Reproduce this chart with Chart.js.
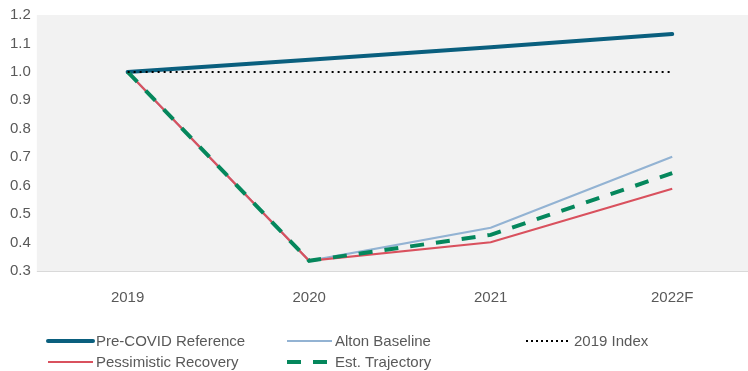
<!DOCTYPE html>
<html>
<head>
<meta charset="utf-8">
<script src="https://cdn.jsdelivr.net/npm/chart.js@4.4.1/dist/chart.umd.min.js"></script>
<style>
  html, body { margin: 0; padding: 0; background: #ffffff; overflow: hidden; }
  #wrap { width: 763px; height: 371px; }
</style>
</head>
<body>
<div id="wrap"><canvas id="chart"></canvas></div>
<script>
// chart values
const years = ['2019', '2020', '2021', '2022F'];
const preCovid = [1.0, 1.0425, 1.087, 1.133];
const altonBaseline = [1.0, 0.336, 0.452, 0.702];
const pessimistic = [1.0, 0.336, 0.401, 0.589];
const estTrajectory = [1.0, 0.336, 0.427, 0.644];
const index2019 = [1.0, 1.0, 1.0, 1.0];
const yTicks = [0.3, 0.4, 0.5, 0.6, 0.7, 0.8, 0.9, 1.0, 1.1, 1.2];

const FONT = "Arial, 'Liberation Sans', sans-serif";
const TEXT = '#595959';

// legend grid: 3 columns, 2 rows, in dataset order
const legendCols = [48, 287, 526];
const legendRows = [341, 362];
const legendLine = 45;

const plotBg = {
    id: 'plotBg',
    beforeDraw(chart) {
        const a = chart.chartArea, ctx = chart.ctx;
        ctx.save();
        ctx.fillStyle = '#f2f2f2';
        ctx.fillRect(a.left, a.top, a.right - a.left, a.bottom - a.top);
        ctx.strokeStyle = '#d9d9d9';
        ctx.lineWidth = 1;
        ctx.beginPath();
        ctx.moveTo(a.left, a.bottom + 0.5);
        ctx.lineTo(a.right, a.bottom + 0.5);
        ctx.stroke();
        ctx.restore();
    }
};

const gridLegend = {
    id: 'gridLegend',
    afterDraw(chart) {
        const ctx = chart.ctx;
        ctx.save();
        ctx.font = '15px ' + FONT;
        ctx.textBaseline = 'middle';
        chart.data.datasets.forEach(function(ds, i){
            const x = legendCols[ds.legendSlot % 3];
            const y = legendRows[Math.floor(ds.legendSlot / 3)];
            ctx.strokeStyle = ds.borderColor;
            ctx.lineWidth = ds.borderWidth;
            ctx.lineCap = ds.borderCapStyle || 'butt';
            ctx.setLineDash(ds.legendDash || []);
            ctx.beginPath();
            ctx.moveTo(x, y);
            ctx.lineTo(x + legendLine, y);
            ctx.stroke();
            ctx.setLineDash([]);
            ctx.fillStyle = TEXT;
            ctx.fillText(ds.label, x + legendLine + 3, y + 1);
        });
        ctx.restore();
    }
};

const data = {
    labels: years,
    datasets: [{
        label: 'Pre-COVID Reference',
        data: preCovid,
        borderColor: '#0a5f7e',
        borderWidth: 4,
        borderCapStyle: 'round',
        legendSlot: 0,
        order: 4
    },{
        label: 'Alton Baseline',
        data: altonBaseline,
        borderColor: '#93b3d3',
        borderWidth: 2.2,
        legendSlot: 1,
        order: 3
    },{
        label: '2019 Index',
        data: index2019,
        borderColor: '#000000',
        borderWidth: 2,
        borderDash: [2, 4],
        legendDash: [2, 3],
        legendSlot: 2,
        order: 0
    },{
        label: 'Pessimistic Recovery',
        data: pessimistic,
        borderColor: '#d9515e',
        borderWidth: 2.2,
        legendSlot: 3,
        order: 2
    },{
        label: 'Est. Trajectory',
        data: estTrajectory,
        borderColor: '#05875c',
        borderWidth: 4,
        borderDash: [14, 12],
        legendDash: [14, 12],
        legendSlot: 4,
        order: 1
    }]
};

const config = {
    type: 'line',
    data,
    options: {
        responsive: true,
        maintainAspectRatio: false,
        animation: false,
        layout: { padding: { left: 4, right: 0, top: 14, bottom: 46 } },
        elements: {
            point: { radius: 0, hoverRadius: 0 },
            line: { tension: 0, fill: false }
        },
        plugins: {
            legend: { display: false },
            tooltip: { enabled: false },
            title: { display: false }
        },
        scales: {
            x: {
                offset: true,
                grid: { display: false, drawTicks: false },
                border: { display: false },
                ticks: { color: TEXT, font: { family: FONT, size: 15 }, padding: 18 }
            },
            y: {
                min: 0.3,
                max: 1.2,
                afterBuildTicks(axis) { axis.ticks = yTicks.map(v => ({ value: v })); },
                grid: { display: false, drawTicks: false },
                border: { display: false },
                ticks: {
                    color: TEXT,
                    font: { family: FONT, size: 15 },
                    padding: 6,
                    callback: v => Number(v).toFixed(1)
                }
            }
        }
    },
    plugins: [plotBg, gridLegend]
};

const ctx = document.getElementById('chart').getContext('2d');
const myChart = new Chart(ctx, config);
</script>
</body>
</html>
